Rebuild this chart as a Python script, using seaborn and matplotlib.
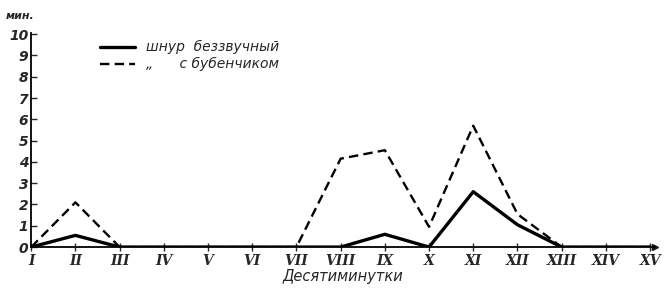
import numpy as np
import pandas as pd
import matplotlib
matplotlib.use('Agg')
import matplotlib.pyplot as plt
import seaborn as sns

periods = ['I', 'II', 'III', 'IV', 'V', 'VI', 'VII', 'VIII',
           'IX', 'X', 'XI', 'XII', 'XIII', 'XIV', 'XV']
silent = [0, 0.55, 0, 0, 0, 0, 0, 0, 0.6, 0, 2.6, 1.05, 0, 0, 0]
bell = [0, 2.1, 0, 0, 0, 0, 0, 4.15, 4.55, 0.95, 5.7, 1.55, 0, 0, 0]
labels = ['шнур  беззвучный', '„      с бубенчиком']

df = pd.DataFrame({
    'pos': list(range(len(periods))) * 2,
    'val': silent + bell,
    'kind': [labels[0]] * len(periods) + [labels[1]] * len(periods),
})

sns.set_theme(style='white')
plt.rcParams['font.family'] = ['DejaVu Sans']

fig = plt.figure(figsize=(6.64, 2.90), dpi=100)
ax = fig.add_axes([0.047, 0.148, 0.94, 0.738])

sns.lineplot(data=df, x='pos', y='val', hue='kind', style='kind',
             palette=['black', 'black'], dashes=[(None, None), (4, 2.2)],
             linewidth=2, ax=ax, legend=False)
# solid line heavier
ax.lines[0].set_linewidth(2.4)
ax.lines[1].set_linewidth(1.7)

ax.set_xlim(0, 14.12)
ax.set_ylim(0, 10.05)
ax.set_xticks(range(len(periods)))
ax.set_xticklabels(periods, fontstyle='italic', fontweight='bold',
                   fontsize=10, fontfamily='DejaVu Serif')
ax.set_yticks(range(0, 11))
ax.set_yticklabels([str(i) for i in range(11)], fontstyle='italic',
                   fontweight='bold', fontsize=10)
ax.tick_params(axis='x', direction='inout', length=6, width=1, pad=2)
ax.tick_params(axis='y', direction='in', length=4, width=1, pad=2, left=True)
ax.tick_params(axis='x', bottom=True)
for s in ['top', 'right']:
    ax.spines[s].set_visible(False)
for s in ['left', 'bottom']:
    ax.spines[s].set_color('black')
    ax.spines[s].set_linewidth(1.3)
ax.plot(1, 0, '>k', transform=ax.get_yaxis_transform(), clip_on=False,
        markersize=4)

ax.set_xlabel('Десятиминутки', fontstyle='italic', fontsize=10.5, labelpad=1)
ax.set_ylabel('')
fig.text(0.008, 0.935, 'мин.', fontstyle='italic', fontsize=8, fontweight='bold')

# legend drawn as lines + text
ax.plot([1.55, 2.35], [9.4, 9.4], color='black', linewidth=2.4)
ax.plot([1.55, 2.35], [8.6, 8.6], color='black', linewidth=1.7, dashes=(4, 2.2))
ax.text(2.6, 9.4, labels[0], fontstyle='italic', fontsize=10, va='center')
ax.text(2.6, 8.6, labels[1], fontstyle='italic', fontsize=10, va='center')

fig.savefig('out.png', dpi=100, facecolor='white')
